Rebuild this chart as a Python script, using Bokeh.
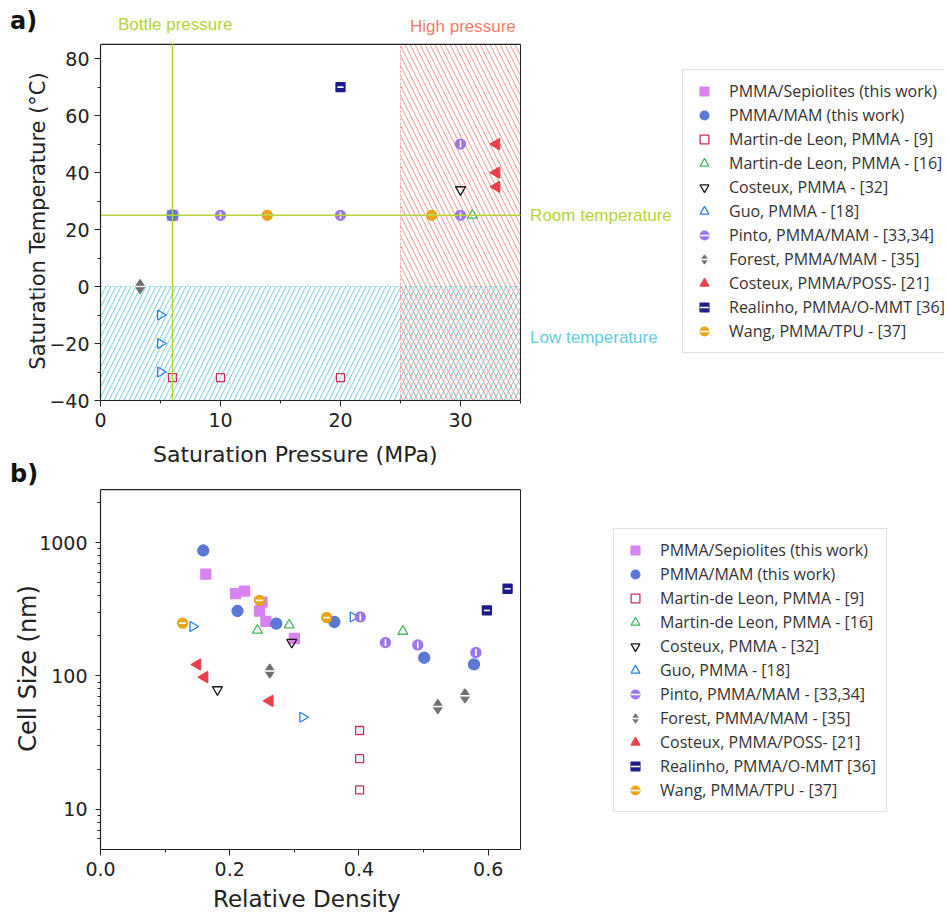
import math
from bokeh.plotting import figure
from bokeh.models import (Range1d, FixedTicker, PrintfTickFormatter, Label,
                          Legend, LegendItem, Div)
from bokeh.layouts import column
from bokeh.embed import file_html
from bokeh.resources import INLINE

# ---------------- shared series names ----------------
series_labels = ["PMMA/Sepiolites (this work)", "PMMA/MAM (this work)",
                 "Martin-de Leon, PMMA - [9]", "Martin-de Leon, PMMA - [16]",
                 "Costeux, PMMA - [32]", "Guo, PMMA - [18]",
                 "Pinto, PMMA/MAM - [33,34]", "Forest, PMMA/MAM - [35]",
                 "Costeux, PMMA/POSS- [21]", "Realinho, PMMA/O-MMT [36]",
                 "Wang, PMMA/TPU - [37]"]

# ---------------- panel a) data: pressure (MPa), temperature (C) ----------------
a_sep_p = [6];              a_sep_t = [25]
a_mam_p = [6];              a_mam_t = [25]
a_ml9_p = [6, 10, 20];      a_ml9_t = [-32, -32, -32]
a_ml16_p = [31];            a_ml16_t = [25]
a_cos32_p = [30];           a_cos32_t = [34]
a_guo_p = [5, 5, 5];        a_guo_t = [-10, -20, -30]
a_pinto_p = [10, 20, 30, 30]; a_pinto_t = [25, 25, 25, 50]
a_forest_p = [3.3];         a_forest_t = [0]
a_poss_p = [33, 33, 33];    a_poss_t = [50, 40, 35]
a_real_p = [20];            a_real_t = [70]
a_wang_p = [13.9, 27.6];    a_wang_t = [25, 25]

a_x_min, a_x_max = 0, 35
a_y_min, a_y_max = -40, 85
bottle_pressure = 6
room_temperature = 25
high_pressure_from = 25
low_temperature_below = 0

a_x_ticks = [0, 10, 20, 30]
a_x_minor = [5, 15, 25, 35]
a_y_ticks = [-40, -20, 0, 20, 40, 60, 80]
a_y_minor = [-30, -10, 10, 30, 50, 70]

# ---------------- panel b) data: relative density, cell size (nm) ----------------
b_sep_x = [0.163, 0.209, 0.223, 0.250, 0.246, 0.256, 0.300]
b_sep_y = [580, 414, 433, 358, 307, 257, 191]
b_mam_x = [0.159, 0.212, 0.272, 0.362, 0.501, 0.578]
b_mam_y = [873, 307, 247, 254, 137, 122]
b_ml9_x = [0.401, 0.401, 0.401]
b_ml9_y = [39, 24, 14]
b_ml16_x = [0.243, 0.292, 0.468]
b_ml16_y = [220, 241, 216]
b_cos32_x = [0.181, 0.296]
b_cos32_y = [79, 179]
b_guo_x = [0.143, 0.313, 0.391]
b_guo_y = [235, 49, 277]
b_pinto_x = [0.402, 0.441, 0.491, 0.581]
b_pinto_y = [277, 178, 171, 150]
b_forest_x = [0.262, 0.522, 0.564]
b_forest_y = [109, 59, 71]
b_poss_x = [0.150, 0.161, 0.262]
b_poss_y = [122, 98, 65]
b_real_x = [0.598, 0.630]
b_real_y = [310, 451]
b_wang_x = [0.127, 0.246, 0.350]
b_wang_y = [249, 369, 274]

b_x_min, b_x_max = 0.0, 0.65
b_y_min, b_y_max = 5, 2500
b_x_ticks = [0.0, 0.2, 0.4, 0.6]
b_x_minor = [0.1, 0.3, 0.5]
b_y_ticks = [10, 100, 1000]
b_y_minor = [6, 7, 8, 9, 20, 30, 40, 50, 60, 70, 80, 90,
             200, 300, 400, 500, 600, 700, 800, 900, 2000]

a_series = [(a_sep_p, a_sep_t), (a_mam_p, a_mam_t), (a_ml9_p, a_ml9_t),
            (a_ml16_p, a_ml16_t), (a_cos32_p, a_cos32_t), (a_guo_p, a_guo_t),
            (a_pinto_p, a_pinto_t), (a_forest_p, a_forest_t), (a_poss_p, a_poss_t),
            (a_real_p, a_real_t), (a_wang_p, a_wang_t)]
b_series = [(b_sep_x, b_sep_y), (b_mam_x, b_mam_y), (b_ml9_x, b_ml9_y),
            (b_ml16_x, b_ml16_y), (b_cos32_x, b_cos32_y), (b_guo_x, b_guo_y),
            (b_pinto_x, b_pinto_y), (b_forest_x, b_forest_y), (b_poss_x, b_poss_y),
            (b_real_x, b_real_y), (b_wang_x, b_wang_y)]

# ---------------- styles ----------------
styles = [
    dict(marker="square", size=10, fill="#d783f2", line="#d783f2", angle=0.0, ov=None),
    dict(marker="circle", size=11, fill="#5b78d6", line="#5b78d6", angle=0.0, ov=None),
    dict(marker="square", size=8, fill=None, line="#c8305e", angle=0.0, ov=None),
    dict(marker="triangle", size=10, fill=None, line="#43b95a", angle=0.0, ov=None),
    dict(marker="inverted_triangle", size=10, fill=None, line="#151515", angle=0.0, ov=None),
    dict(marker="triangle", size=10, fill=None, line="#2b7fe3", angle=-math.pi / 2, ov=None),
    dict(marker="circle", size=10, fill="#9d74ef", line="#9d74ef", angle=0.0, ov=math.pi / 2),
    dict(marker="diamond", size=14, fill="#717171", line="#717171", angle=0.0, ov=0.0),
    dict(marker="triangle", size=11, fill="#e8414e", line="#e8414e", angle=math.pi / 2, ov=None),
    dict(marker="square", size=9, fill="#1b1b8e", line="#1b1b8e", angle=0.0, ov=0.0),
    dict(marker="circle", size=10, fill="#e9a516", line="#e9a516", angle=0.0, ov=0.0),
]

AX_FONT = "DejaVu Sans"
W = 944            # figure width
LEFT = 100         # left border (frame starts here)
BOX_W = 420        # pixel width of the drawn plot box
EXT = W - LEFT     # frame runs to the right edge (room for legend / side texts)


def style_axes(p):
    for ax in (p.xaxis, p.yaxis):
        ax.axis_line_color = "#222222"
        ax.axis_line_width = 1.2
        ax.major_tick_line_color = "#222222"
        ax.minor_tick_line_color = "#222222"
        ax.major_tick_in = 0
        ax.major_tick_out = 6
        ax.minor_tick_in = 0
        ax.minor_tick_out = 3
        ax.major_label_text_font = AX_FONT
        ax.major_label_text_font_size = "19px"
        ax.major_label_text_color = "#222222"
        ax.axis_label_text_font = AX_FONT
        ax.axis_label_text_font_size = "21px"
        ax.axis_label_text_font_style = "normal"
        ax.axis_label_text_color = "#222222"
    p.xgrid.grid_line_color = None
    p.ygrid.grid_line_color = None
    p.outline_line_color = None
    p.background_fill_color = "white"
    p.border_fill_color = "white"


def add_series(p, series):
    items = []
    for lab, (xs, ys), st in zip(series_labels, series, styles):
        rs = []
        r = p.scatter(xs, ys, marker=st["marker"], size=st["size"], angle=st["angle"],
                      fill_color=st["fill"], line_color=st["line"], line_width=1.3)
        rs.append(r)
        if st["ov"] is not None:
            r2 = p.scatter(xs, ys, marker="dash", size=st["size"] - 3, angle=st["ov"],
                           line_color="white", line_width=1.6)
            rs.append(r2)
        items.append(LegendItem(label=lab, renderers=rs))
    return items


def make_legend(items, loc):
    lg = Legend(items=items, location=loc)
    lg.label_text_font = "Open Sans"
    lg.label_text_font_size = "16px"
    lg.label_text_color = "#333333"
    lg.border_line_color = "#c4c4c4"
    lg.border_line_width = 1
    lg.background_fill_color = "white"
    lg.background_fill_alpha = 1.0
    lg.padding = 10
    lg.spacing = 2
    lg.glyph_width = 22
    lg.glyph_height = 22
    lg.label_height = 22
    lg.label_standoff = 14
    lg.margin = 0
    return lg


def box(p, x0, x1, y0, y1):
    # top and right edges of the plot box (the axes draw left and bottom)
    p.line([x0, x1], [y1, y1], line_color="#222222", line_width=1.3)
    p.line([x1, x1], [y0, y1], line_color="#222222", line_width=1.0)


def span_html(text, left, top, size, color, bold=False, font="DejaVu Sans"):
    weight = "bold " if bold else ""
    return ('<span style="position:absolute;left:%dpx;top:%dpx;font:%s%dpx \'%s\';'
            'line-height:%dpx;color:%s;white-space:nowrap;">%s</span>'
            % (left, top, weight, size, font, size, color, text))


def text_strip(height, spans):
    return Div(width=W, height=height, margin=0, text=(
        '<div style="position:relative;width:%dpx;height:%dpx;">%s</div>'
        % (W, height, "".join(spans))))


# ================= header texts of panel a =================
div_a = text_strip(41, [
    span_html("a)", 10, 9, 24, "#111111", bold=True),
    span_html("Bottle pressure", 118, 16, 17, "#b8d23a", font="Liberation Sans"),
    span_html("High pressure", 410, 18, 17, "#ef7d6d", font="Liberation Sans"),
])

# ================= panel a =================
a_x_end = a_x_max * EXT / BOX_W
p1 = figure(width=W, height=396, x_range=Range1d(a_x_min, a_x_end),
            y_range=Range1d(a_y_min, a_y_max + 1),
            output_backend="svg", toolbar_location=None, margin=0,
            min_border_left=LEFT, min_border_right=0,
            min_border_top=0, min_border_bottom=37)
style_axes(p1)
p1.xaxis.bounds = (a_x_min, a_x_max)
p1.yaxis.bounds = (a_y_min, a_y_max)
p1.xaxis.ticker = FixedTicker(ticks=a_x_ticks, minor_ticks=a_x_minor)
p1.yaxis.ticker = FixedTicker(ticks=a_y_ticks, minor_ticks=a_y_minor)
p1.yaxis.axis_label = "Saturation Temperature (°C)"
p1.xaxis.major_label_standoff = 6
p1.yaxis.major_label_standoff = 5
p1.yaxis.axis_label_standoff = -4

# hatched regions
p1.quad(left=[a_x_min], right=[a_x_max], bottom=[a_y_min], top=[low_temperature_below],
        fill_alpha=0, hatch_pattern="right_diagonal_line", hatch_color="#79d0e6",
        hatch_scale=10, hatch_weight=1, line_color=None, level="underlay")
p1.quad(left=[high_pressure_from], right=[a_x_max], bottom=[a_y_min], top=[a_y_max],
        fill_alpha=0, hatch_pattern="left_diagonal_line", hatch_color="#f29b90",
        hatch_scale=10, hatch_weight=1, line_color=None, level="underlay")
p1.line([a_x_min, a_x_max], [low_temperature_below, low_temperature_below],
        line_color="#79d0e6", line_dash="2 2", line_width=1)
p1.line([high_pressure_from, high_pressure_from], [a_y_min, a_y_max],
        line_color="#f29b90", line_dash="2 2", line_width=1)
box(p1, a_x_min, a_x_max, a_y_min, a_y_max)

items1 = add_series(p1, a_series)

p1.line([bottle_pressure, bottle_pressure], [a_y_min, a_y_max],
        line_color="#b8d23a", line_width=1.5)
p1.line([a_x_min, a_x_max], [room_temperature, room_temperature],
        line_color="#b8d23a", line_width=1.5)

p1.add_layout(make_legend(items1, (582, 47)))

lab_font = "Liberation Sans"
p1.add_layout(Label(x=a_x_max + 0.8, y=room_temperature, text="Room temperature",
                    text_font=lab_font, text_font_size="17px", text_color="#b8d23a",
                    text_baseline="middle"))
p1.add_layout(Label(x=a_x_max + 0.8, y=-17.9, text="Low temperature",
                    text_font=lab_font, text_font_size="17px", text_color="#62cde3",
                    text_baseline="middle"))

# ================= x title of a, header of b =================
div_mid = text_strip(50, [
    span_html("Saturation Pressure (MPa)", 153, 7, 22, "#222222"),
    span_html("b)", 10, 25, 24, "#111111", bold=True),
])

# ================= panel b =================
b_x_end = b_x_max * EXT / BOX_W
p2 = figure(width=W, height=397, x_range=Range1d(b_x_min, b_x_end),
            y_range=Range1d(b_y_min, 2590),
            y_axis_type="log", output_backend="svg", toolbar_location=None, margin=0,
            min_border_left=LEFT, min_border_right=0,
            min_border_top=0, min_border_bottom=35)
style_axes(p2)
p2.xaxis.bounds = (b_x_min, b_x_max)
p2.yaxis.bounds = (b_y_min, b_y_max)
p2.xaxis.ticker = FixedTicker(ticks=b_x_ticks, minor_ticks=b_x_minor)
p2.yaxis.ticker = FixedTicker(ticks=b_y_ticks, minor_ticks=b_y_minor)
p2.xaxis.formatter = PrintfTickFormatter(format="%.1f")
p2.yaxis.formatter = PrintfTickFormatter(format="%d")
p2.yaxis.axis_label = "Cell Size (nm)"
p2.yaxis.axis_label_text_font_size = "24px"
p2.xaxis.major_label_standoff = 6
p2.yaxis.major_label_standoff = 8
p2.yaxis.axis_label_standoff = -6
p2.yaxis.major_tick_out = 5

box(p2, b_x_min, b_x_max, b_y_min, b_y_max)
items2 = add_series(p2, b_series)
p2.add_layout(make_legend(items2, (513, 37)))

# ================= x title of b =================
div_bot = text_strip(28, [
    span_html("Relative Density", 213, 4, 23, "#222222"),
])

layout = column(div_a, p1, div_mid, p2, div_bot, spacing=0)
open("out.html", "w").write(file_html(layout, INLINE))
